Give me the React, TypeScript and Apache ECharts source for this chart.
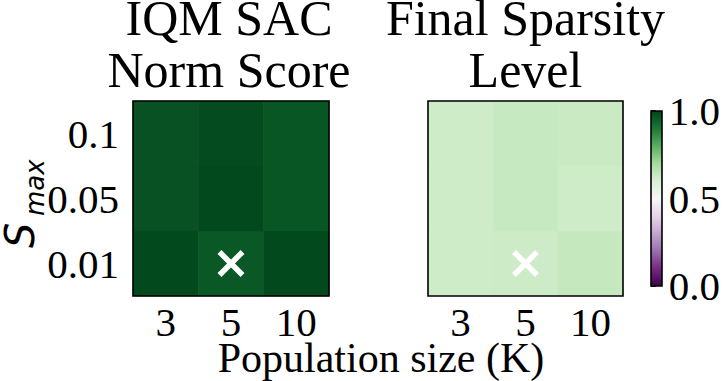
import React, { useEffect, useRef } from 'react';
import * as echarts from 'echarts';

// ---- data ----
const populationSizes = ['3', '5', '10'];
const sMaxLevels = ['0.01', '0.05', '0.1']; // bottom -> top
// rows follow sMaxLevels, columns follow populationSizes
const iqmScore = [
  [0.99, 0.962, 0.99],
  [0.975, 0.99, 0.965],
  [0.975, 0.985, 0.965],
];
const sparsityLevel = [
  [0.62, 0.625, 0.64],
  [0.62, 0.635, 0.62],
  [0.62, 0.635, 0.63],
];
const bestConfig = [['5', '0.01']];
const colorbarMin = 0;
const colorbarMax = 1;
const colorbarInterval = 0.5;
const titles = ['IQM SAC\nNorm Score', 'Final Sparsity\nLevel'];
const xLabel = 'Population size (K)';

const PRGn = [
  '#40004b', '#762a83', '#9970ab', '#c2a5cf', '#e7d4e8', '#f7f7f7',
  '#d9f0d3', '#a6dba0', '#5aae61', '#1b7837', '#00441b',
];

// ---- layout ----
const SERIF = 'Liberation Serif';
const G0 = { left: 133, top: 101, width: 196, height: 195 };
const G1 = { left: 428, top: 101, width: 195, height: 195 };
const CB = { left: 651, top: 111, width: 11, height: 175 };
const LW = 1.6;

function toCells(matrix: number[][]) {
  const out: [number, number, number][] = [];
  matrix.forEach((row, yi) => row.forEach((v, xi) => out.push([xi, yi, v])));
  return out;
}

function frame(g: { left: number; top: number; width: number; height: number }) {
  return {
    type: 'rect',
    z: 100,
    shape: { x: g.left, y: g.top, width: g.width, height: g.height },
    style: { fill: 'none', stroke: '#000', lineWidth: LW },
    silent: true,
  };
}

const catX = (gridIndex: number) => ({
  gridIndex,
  type: 'category',
  data: populationSizes,
  axisLine: { show: false },
  axisTick: { alignWithLabel: true, length: 6, lineStyle: { color: '#000', width: LW } },
  axisLabel: { fontFamily: SERIF, fontSize: 41, color: '#000', margin: 5 },
  splitLine: { show: false },
});

const catY = (gridIndex: number, showLabel: boolean) => ({
  gridIndex,
  type: 'category',
  data: sMaxLevels,
  axisLine: { show: false },
  axisTick: { alignWithLabel: true, length: 6, lineStyle: { color: '#000', width: LW } },
  axisLabel: { show: showLabel, fontFamily: SERIF, fontSize: 41, color: '#000', margin: 14 },
  splitLine: { show: false },
});

const xMarker = (idx: number) => ({
  type: 'scatter',
  xAxisIndex: idx,
  yAxisIndex: idx,
  data: bestConfig,
  symbol: 'path://M0,0L10,10M10,0L0,10',
  symbolSize: 23,
  z: 10,
  itemStyle: { color: 'rgba(0,0,0,0)', borderColor: '#ffffff', borderWidth: 5.5, opacity: 1 },
  emphasis: { disabled: true },
  silent: true,
});

export default function App() {
  const ref = useRef<HTMLDivElement>(null);
  useEffect(() => {
    if (!ref.current) return;
    const chart = echarts.init(ref.current, null, { renderer: 'svg' });
    const option: any = {
      animation: false,
      backgroundColor: '#ffffff',
      grid: [
        { ...G0, containLabel: false },
        { ...G1, containLabel: false },
        { ...CB, containLabel: false },
      ],
      xAxis: [
        catX(0),
        catX(1),
        { gridIndex: 2, type: 'value', show: false, min: 0, max: 1 },
      ],
      yAxis: [
        catY(0, true),
        catY(1, false),
        {
          gridIndex: 2,
          type: 'value',
          position: 'right',
          min: colorbarMin,
          max: colorbarMax,
          interval: colorbarInterval,
          axisLine: { show: false },
          axisTick: { show: true, length: 5, lineStyle: { color: '#000', width: LW } },
          axisLabel: {
            fontFamily: SERIF,
            fontSize: 41,
            color: '#000',
            margin: 12,
            formatter: (v: number) => v.toFixed(1),
          },
          splitLine: { show: false },
        },
      ],
      visualMap: {
        type: 'continuous',
        show: false,
        min: colorbarMin,
        max: colorbarMax,
        seriesIndex: [0, 1],
        inRange: { color: PRGn },
      },
      series: [
        {
          type: 'heatmap',
          xAxisIndex: 0,
          yAxisIndex: 0,
          data: toCells(iqmScore),
          emphasis: { disabled: true },
          silent: true,
        },
        {
          type: 'heatmap',
          xAxisIndex: 1,
          yAxisIndex: 1,
          data: toCells(sparsityLevel),
          emphasis: { disabled: true },
          silent: true,
        },
        xMarker(0),
        xMarker(1),
      ],
      graphic: [
        frame(G0),
        frame(G1),
        {
          type: 'rect',
          z: 1,
          shape: { x: CB.left, y: CB.top, width: CB.width, height: CB.height },
          style: {
            fill: {
              type: 'linear',
              x: 0, y: 1, x2: 0, y2: 0,
              colorStops: PRGn.map((c, i) => ({ offset: i / (PRGn.length - 1), color: c })),
            },
          },
          silent: true,
        },
        frame(CB),
        {
          type: 'text',
          x: G0.left + G0.width / 2 - 2,
          y: -8,
          style: {
            text: titles[0],
            fontFamily: SERIF,
            fontSize: 50,
            lineHeight: 52,
            fill: '#000',
            textAlign: 'center',
            textVerticalAlign: 'top',
          },
        },
        {
          type: 'text',
          x: G1.left + G1.width / 2,
          y: -8,
          style: {
            text: titles[1],
            fontFamily: SERIF,
            fontSize: 50,
            lineHeight: 52,
            fill: '#000',
            textAlign: 'center',
            textVerticalAlign: 'top',
          },
        },
        {
          type: 'text',
          x: 381,
          y: 358,
          style: {
            text: xLabel,
            fontFamily: SERIF,
            fontSize: 42,
            fill: '#000',
            textAlign: 'center',
            textVerticalAlign: 'middle',
          },
        },
        {
          type: 'text',
          x: 20,
          y: 248,
          rotation: Math.PI / 2,
          style: {
            text: 'S',
            fontFamily: 'DejaVu Sans',
            fontStyle: 'italic',
            fontSize: 40,
            fill: '#000',
            textAlign: 'left',
            textVerticalAlign: 'middle',
          },
        },
        {
          type: 'text',
          x: 35,
          y: 216,
          rotation: Math.PI / 2,
          style: {
            text: 'max',
            fontFamily: 'DejaVu Sans',
            fontStyle: 'italic',
            fontSize: 26,
            fill: '#000',
            textAlign: 'left',
            textVerticalAlign: 'middle',
          },
        },
      ],
    };
    chart.setOption(option);
    return () => chart.dispose();
  }, []);
  return (
    <div
      ref={ref}
      style={{ position: 'fixed', left: 0, top: 0, width: 723, height: 381, background: '#fff' }}
    />
  );
}
